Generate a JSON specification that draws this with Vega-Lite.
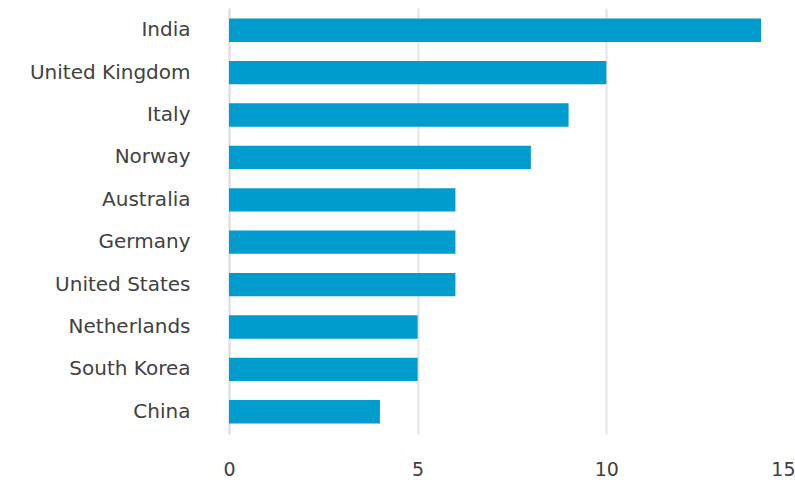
{
  "$schema": "https://vega.github.io/schema/vega-lite/v6.json",
  "autosize": "none",
  "padding": {"left": 229, "top": 8, "right": 0, "bottom": 49},
  "width": 566,
  "height": 426,
  "background": "white",
  "data": {"values": [
    {"country": "India", "value": 14.1},
    {"country": "United Kingdom", "value": 10},
    {"country": "Italy", "value": 9},
    {"country": "Norway", "value": 8},
    {"country": "Australia", "value": 6},
    {"country": "Germany", "value": 6},
    {"country": "United States", "value": 6},
    {"country": "Netherlands", "value": 5},
    {"country": "South Korea", "value": 5},
    {"country": "China", "value": 4}
  ]},
  "config": {
    "view": {"stroke": null},
    "font": "DejaVu Sans"
  },
  "mark": {"type": "bar", "color": "#009ccd"},
  "encoding": {
    "y": {
      "field": "country", "type": "nominal", "sort": null, "title": null,
      "scale": {"paddingInner": 0.45, "paddingOuter": 0.25},
      "axis": {"domain": false, "ticks": false, "grid": false, "labelPadding": 39, "labelFontSize": 20, "labelColor": "#414141", "labelFont": "DejaVu Sans"}
    },
    "x": {
      "field": "value", "type": "quantitative", "title": null,
      "scale": {"domain": [0, 15], "nice": false},
      "axis": {"values": [0, 5, 10, 15], "domain": false, "ticks": false, "grid": true,
        "gridColor": {"expr": "datum.value == 15 ? 'rgba(0,0,0,0)' : (datum.value == 0 ? '#d8dbe6' : '#e3e3e6')"},
        "gridWidth": 2, "labelPadding": 26, "labelFontSize": 19, "labelColor": "#414141", "labelFlush": false,
        "labelAlign": {"expr": "datum.value == 15 ? 'right' : 'center'"},
        "labelFont": "DejaVu Sans"}
    }
  }
}
